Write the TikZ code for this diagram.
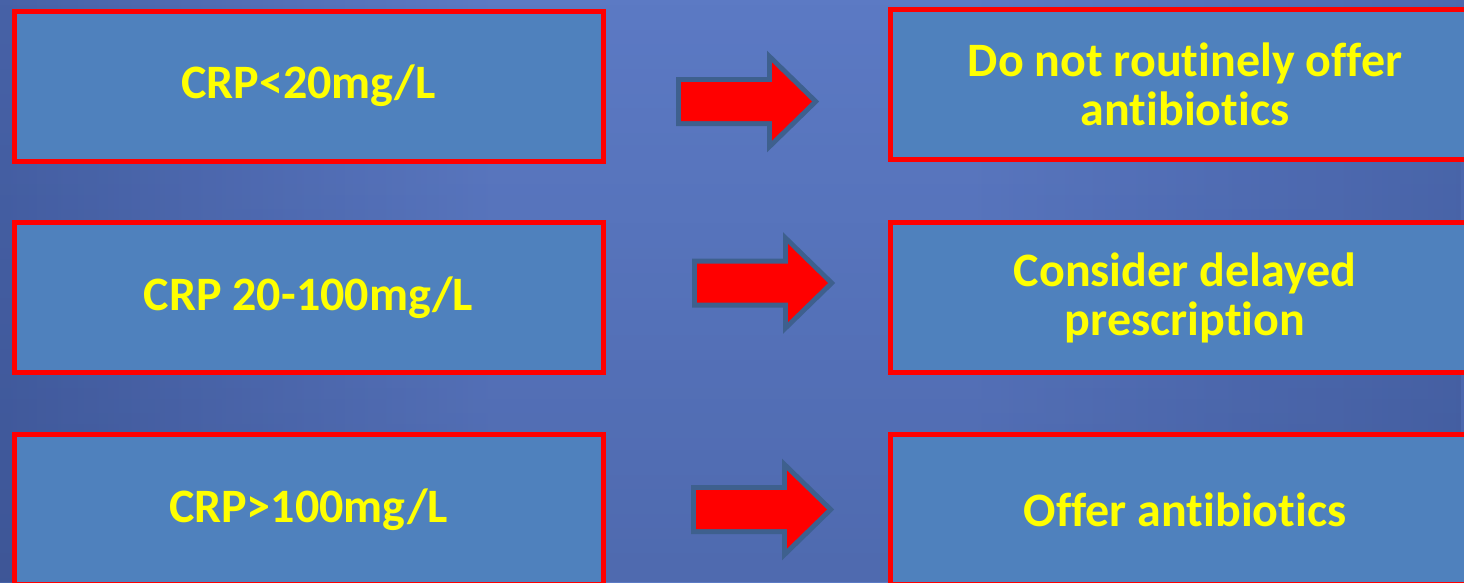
\documentclass[tikz,border=0pt]{standalone}
\usepackage{fontspec}
\setmainfont{Carlito}[Ligatures=NoCommon]
\usetikzlibrary{fadings}
\definecolor{bgin}{RGB}{92,122,196}
\definecolor{bgleft}{RGB}{40,62,124}
\definecolor{bgright}{RGB}{52,78,142}
\definecolor{bgfloor}{RGB}{20,34,80}
\definecolor{boxfill}{RGB}{79,129,189}
\definecolor{boxline}{RGB}{255,0,0}
\definecolor{arrowline}{RGB}{62,96,142}
\definecolor{labeltext}{RGB}{255,255,0}
% blue backdrop: light down the middle, darker towards both sides
\pgfdeclarehorizontalshading{backdrop}{100bp}{%
  color(0bp)=(bgleft); color(42bp)=(bgin); color(58bp)=(bgin);
  color(100bp)=(bgright)}
\begin{document}
\begin{tikzpicture}[x=1pt,y=-1pt,
  box/.style={draw=boxline, line width=5pt, fill=boxfill,
    minimum width=589pt, minimum height=150pt, inner sep=0pt,
    text=labeltext, align=center,
    font=\fontsize{48}{49}\selectfont\bfseries},
  blockarrow/.pic={
    \path[draw=arrowline, line width=10pt, line join=miter, fill=red]
      (0,-19.5) -- (91,-19.5) -- (91,-39) -- (131,0) -- (91,39)
      -- (91,19.5) -- (0,19.5) -- cycle;
    \path[fill=red]
      (0,-19.5) -- (91,-19.5) -- (91,-39) -- (131,0) -- (91,39)
      -- (91,19.5) -- (0,19.5) -- cycle;
  }]
\useasboundingbox (0,0) rectangle (1464,582);
\clip (0,0) rectangle (1464,582);
\shade[shading=backdrop] (0,0) rectangle (1464,582);
% slightly deeper tone towards the bottom
\fill[bgfloor, opacity=0.18, path fading=north] (0,0) rectangle (1464,582);

% conditions
\node[box] (low)  at (308.5,86)    {CRP<20mg/L};
\node[box] (mid)  at (308.5,297.5) {CRP 20-100mg/L};
\node[box] (high) at (308.5,509.5) {CRP>100mg/L};

% recommendations
\node[box] (nortn)   at (1185,84)    {Do not routinely offer\\antibiotics};
\node[box] (delayed) at (1185,297.5) {Consider delayed\\prescription};
\node[box] (offer)   at (1185,509.5) {Offer antibiotics};

% block arrows between the columns
\coordinate (a1) at (681,101.5);
\coordinate (a2) at (697,283);
\coordinate (a3) at (696,509.5);
\pic at (a1) {blockarrow};
\pic at (a2) {blockarrow};
\pic at (a3) {blockarrow};
\end{tikzpicture}
\end{document}
